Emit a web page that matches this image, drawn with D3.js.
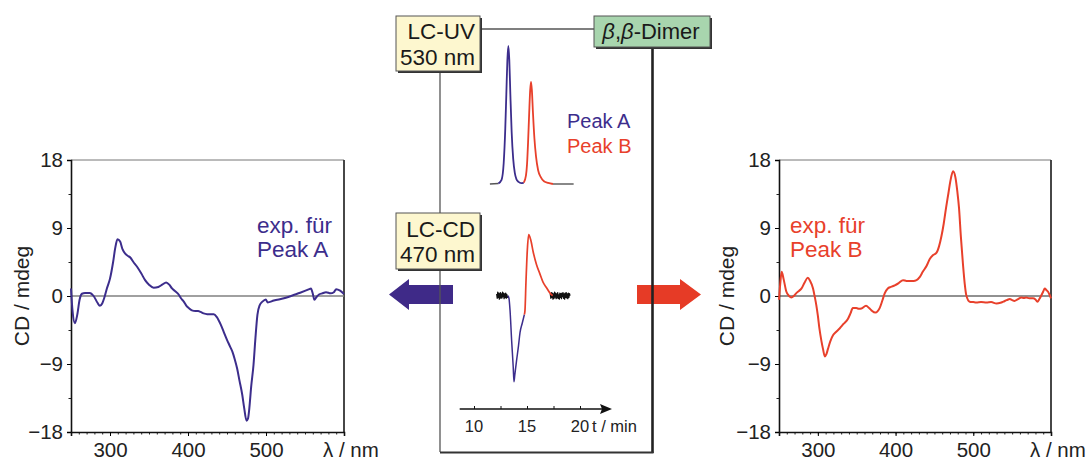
<!DOCTYPE html>
<html><head><meta charset="utf-8">
<script src="https://cdn.jsdelivr.net/npm/d3@7"></script>
<style>
html,body{margin:0;padding:0;background:#fff;}
svg{display:block;font-family:"Liberation Sans",Arial,sans-serif;}
</style></head>
<body><svg id="c" width="1087" height="460"></svg>
<script>
// ---------- DATA ----------
const yTicks = [-18, -9, 0, 9, 18];
const xTicks = [300, 400, 500];
const timeTicks = [10, 12.5, 15, 17.5, 20];
const timeLabels = [10, 15, 20];

// CD spectrum Peak A: [wavelength nm, CD mdeg]
const specA = [[250,1.0],[252,-2.0],[255,-3.6],[258,-2.5],[261,-0.5],[264,0.3],[268,0.4],[274,0.4],[279,0.0],[284,-0.9],[287,-1.3],[290,-1.0],[292.5,-0.3],[296,1.0],[300,2.3],[304,4.5],[306.6,6.3],[309.6,7.5],[313,7.2],[316,6.2],[319.5,5.6],[323,5.3],[326,5.1],[330,4.5],[334.5,3.9],[340,3.0],[345,2.1],[350,1.5],[356,1.1],[362,1.2],[367,1.5],[372,1.8],[376,1.5],[379.5,1.0],[384,0.6],[388,0.2],[391,-0.3],[394.6,-0.75],[398,-1.3],[401,-1.6],[405,-1.9],[409.6,-2.0],[413,-2.0],[416,-2.1],[420,-2.3],[424.6,-2.4],[429,-2.4],[433,-2.4],[437,-2.8],[442,-3.8],[446,-4.8],[450,-5.8],[454,-6.7],[457,-7.4],[460,-8.4],[463,-9.6],[466,-11.2],[469.6,-13.1],[472,-14.8],[475,-16.5],[477,-16.2],[478.5,-15.0],[481,-12.0],[484,-9.1],[486.5,-5.5],[489,-2.5],[492,-1.2],[495.4,-0.75],[499.7,-0.45],[502,-0.85],[510,-0.6],[523,-0.3],[540,0.3],[555.5,0.9],[557.6,1.0],[560,0.3],[562,-0.5],[565,-0.1],[568,0.2],[572,0.35],[577,0.5],[583,0.35],[587,0.5],[590,0.9],[595,0.7],[600,0.25]];

// CD spectrum Peak B: [wavelength nm, CD mdeg]
const specB = [[250,-0.5],[251.5,1.5],[253.4,3.2],[256,2.2],[259.4,0.6],[263,0.0],[266,-0.2],[269,0.0],[272,0.35],[276,0.7],[279,1.0],[283,1.8],[287,2.4],[290,2.0],[293.8,1.0],[296,-0.1],[298,-1.2],[300,-2.6],[302,-4.3],[304.5,-5.9],[306.6,-7.0],[309,-8.0],[311,-7.7],[313,-7.0],[316,-6.0],[319.5,-5.2],[323,-4.8],[328,-4.3],[333,-3.7],[338.8,-3.0],[342,-2.3],[345,-1.6],[349.5,-1.6],[353,-1.7],[356,-1.65],[362,-1.3],[366,-1.6],[369,-1.9],[374,-2.2],[377,-2.0],[379.5,-1.6],[383,-0.6],[386,0.35],[390,1.0],[394,1.2],[399,1.4],[404,1.7],[409.6,2.1],[414,2.0],[418,2.0],[423,2.0],[427,2.1],[431,2.5],[435,3.2],[440,4.0],[444,4.9],[448,5.4],[452.5,5.7],[456,6.6],[459,7.9],[462,9.6],[465,11.7],[468,13.6],[470.5,15.2],[474,16.5],[477,15.7],[479.5,13.8],[481.6,11.7],[484,7.9],[486.8,4.1],[489,1.6],[491,0.1],[495.4,-0.75],[500,-0.8],[504,-0.85],[510,-0.8],[517,-0.85],[523,-0.8],[530,-1.0],[535,-0.9],[538.6,-0.75],[543,-0.55],[547,-0.4],[550,-0.55],[553,-0.65],[557,-0.45],[562,-0.2],[565,-0.25],[568,-0.2],[572,-0.3],[576.9,-0.3],[580,-0.45],[582.5,-0.75],[585,-0.4],[587.6,0.1],[590,0.6],[592,1.0],[594,0.8],[596,0.6],[598,0.2],[600,-0.3]];

// LC-UV chromatogram (530 nm): [t min, relative absorbance]
const uvBaseL = [[11.5,0],[12.3,0.004]];
const uvA = [[12.3,0.004],[12.6,0.03],[12.8,0.15],[12.95,0.4],[13.05,0.65],[13.15,0.9],[13.24,1.0],[13.33,0.9],[13.43,0.65],[13.55,0.38],[13.7,0.18],[13.85,0.08],[14.0,0.035],[14.2,0.015],[14.45,0.006],[14.7,0.01]];
const uvB = [[14.7,0.01],[14.9,0.06],[15.0,0.14],[15.1,0.3],[15.2,0.5],[15.3,0.68],[15.38,0.74],[15.46,0.68],[15.56,0.52],[15.7,0.33],[15.85,0.2],[16.05,0.1],[16.3,0.05],[16.6,0.02],[17.0,0.008],[17.45,0]];
const uvBaseR = [[17.45,0],[19.4,0]];

// LC-CD chromatogram (470 nm): [t min, relative CD]
const cdNoiseL = [[12.14,0.02],[12.19,-0.03],[12.24,0.04],[12.29,-0.02],[12.34,0.03],[12.39,-0.04],[12.44,0.01],[12.49,0.035],[12.54,-0.03],[12.59,0.02],[12.64,-0.025],[12.69,0.04],[12.74,-0.01],[12.79,0.03],[12.84,-0.035],[12.89,0.02],[12.94,-0.02],[12.99,0.03],[13.04,-0.03],[13.09,0.015],[13.14,-0.02],[13.2,0]];
const cdA = [[13.2,0],[13.3,-0.03],[13.4,-0.17],[13.55,-0.52],[13.7,-0.83],[13.77,-1.0],[13.85,-0.92],[14.02,-0.75],[14.2,-0.58],[14.34,-0.43],[14.55,-0.32],[14.75,-0.22]];
const cdB = [[14.75,-0.22],[14.81,-0.17],[14.9,0.15],[15.03,0.53],[15.16,0.71],[15.35,0.65],[15.6,0.5],[15.9,0.36],[16.2,0.26],[16.5,0.16],[16.86,0.09],[17.17,0.03],[17.42,0.0]];
const cdNoiseR = [[17.2,0.02],[17.25,-0.03],[17.3,0.035],[17.35,-0.02],[17.4,0.03],[17.45,-0.04],[17.5,0.02],[17.55,-0.03],[17.6,0.04],[17.65,-0.015],[17.7,0.03],[17.75,-0.035],[17.8,0.02],[17.85,-0.025],[17.9,0.035],[17.95,-0.03],[18.0,0.01],[18.05,-0.04],[18.1,0.03],[18.15,-0.02],[18.2,0.025],[18.25,-0.035],[18.3,0.03],[18.35,-0.01],[18.4,0.035],[18.45,-0.03],[18.5,0.02],[18.55,-0.04],[18.6,0.03],[18.65,-0.02],[18.7,0.035],[18.75,-0.025],[18.8,0.02],[18.85,-0.035],[18.9,0.03],[18.95,-0.02],[19.0,0.025],[19.06,0]];

// ---------- STYLE ----------
const PURPLE = "#3c2d8c", RED = "#e8402b", FONT = "Liberation Sans, Arial, sans-serif";
const svg = d3.select("#c");
svg.append("rect").attr("width",1087).attr("height",460).attr("fill","#fff");

const fmt = d => d < 0 ? "\u2212" + Math.abs(d) : String(d);

function spectrumPanel(x0, x1, data, color, label1, label2, labelX, zeroColor, zeroW, ylabelX) {
  const x = d3.scaleLinear().domain([250, 600]).range([x0, x1]);
  const y = d3.scaleLinear().domain([-18, 18]).range([432, 160]);
  const g = svg.append("g");
  g.append("line").attr("x1", x0).attr("x2", x1).attr("y1", 160).attr("y2", 160).attr("stroke", "#777").attr("stroke-width", 1);
  g.append("line").attr("x1", x1).attr("x2", x1).attr("y1", 160).attr("y2", 432).attr("stroke", "#333").attr("stroke-width", 1.8);
  g.append("line").attr("x1", x0).attr("x2", x1).attr("y1", y(0)).attr("y2", y(0)).attr("stroke", zeroColor).attr("stroke-width", zeroW);
  g.append("g").attr("transform", `translate(${x0},0)`)
    .call(d3.axisLeft(y).tickValues(d3.range(-18, 18.01, 4.5)).tickSize(2.5).tickFormat(""))
    .call(s => s.select(".domain").remove())
    .selectAll("line").attr("stroke", "#222");
  const ay = g.append("g").attr("transform", `translate(${x0},0)`)
    .call(d3.axisLeft(y).tickValues(yTicks).tickSize(4).tickPadding(4).tickFormat(fmt));
  ay.select(".domain").attr("stroke", "#111").attr("stroke-width", 1.6);
  ay.selectAll("text").attr("font-size", 20.5).attr("font-family", FONT).attr("fill", "#222");
  g.append("g").attr("transform", `translate(0,432)`)
    .call(d3.axisBottom(x).tickValues(d3.range(250, 600.1, 10)).tickSize(2.5).tickFormat(""))
    .call(s => s.select(".domain").remove())
    .selectAll("line").attr("stroke", "#222");
  const ax = g.append("g").attr("transform", `translate(0,432)`)
    .call(d3.axisBottom(x).tickValues(xTicks).tickSize(4).tickPadding(6));
  ax.select(".domain").attr("stroke", "#111").attr("stroke-width", 1.6);
  ax.selectAll("text").attr("font-size", 20.5).attr("font-family", FONT).attr("fill", "#222");
  g.append("text").attr("x", x1 - 21).attr("y", 457).attr("font-size", 20.5).attr("font-family", FONT).attr("fill", "#222").text("\u03bb / nm");
  g.append("text").attr("transform", `translate(${ylabelX},296) rotate(-90)`).attr("text-anchor", "middle")
    .attr("dy", "0.35em").attr("font-size", 21).attr("font-family", FONT).attr("fill", "#222").text("CD / mdeg");
  g.append("path").datum(data)
    .attr("d", d3.line().x(d => x(d[0])).y(d => y(d[1])).curve(d3.curveMonotoneX))
    .attr("fill", "none").attr("stroke", color).attr("stroke-width", 2).attr("stroke-linejoin", "round");
  g.append("text").attr("x", labelX).attr("y", 233).attr("font-size", 22.5).attr("font-family", FONT).attr("fill", color).text(label1);
  g.append("text").attr("x", labelX).attr("y", 257).attr("font-size", 22.5).attr("font-family", FONT).attr("fill", color).text(label2);
}

spectrumPanel(71, 344, specA, PURPLE, "exp. f\u00fcr", "Peak A", 257, "#808080", 1.5, 22);
spectrumPanel(779, 1051, specB, RED, "exp. f\u00fcr", "Peak B", 790, "#222", 1, 727);

// ---------- CENTRAL PANEL ----------
const c = svg.append("g");
c.append("path").attr("d", "M389,294.5 L409,279 L409,285 L453,285 L453,304 L409,304 L409,310 Z").attr("fill", "#3f2a88");
c.append("path").attr("d", "M701,294.5 L680,279 L680,285 L637,285 L637,304 L680,304 L680,310 Z").attr("fill", "#e63b26");
c.append("line").attr("x1", 440).attr("x2", 440).attr("y1", 72).attr("y2", 452).attr("stroke", "#555").attr("stroke-width", 1.3);
c.append("line").attr("x1", 481).attr("x2", 594).attr("y1", 29).attr("y2", 29).attr("stroke", "#555").attr("stroke-width", 1.3);
c.append("line").attr("x1", 652.5).attr("x2", 652.5).attr("y1", 48).attr("y2", 453).attr("stroke", "#222").attr("stroke-width", 2.6);
c.append("line").attr("x1", 440).attr("x2", 653.5).attr("y1", 452.5).attr("y2", 452.5).attr("stroke", "#333").attr("stroke-width", 2.2);

function box(x, y, w, h, fill) {
  c.append("rect").attr("x", x + 2).attr("y", y + 2).attr("width", w).attr("height", h).attr("fill", "#333");
  c.append("rect").attr("x", x).attr("y", y).attr("width", w).attr("height", h).attr("fill", fill).attr("stroke", "#555").attr("stroke-width", 1);
}
box(396, 16, 84, 55, "#fdf7cf");
box(396, 213, 84, 56, "#fdf7cf");
box(594, 16, 116, 31, "#a8d5ae");
function btext(x, y, t, anchor) {
  return c.append("text").attr("x", x).attr("y", y).attr("text-anchor", anchor || "end").attr("font-size", 22.5).attr("font-family", FONT).attr("fill", "#1a1a1a").text(t);
}
btext(475, 38.5, "LC-UV");
btext(475, 65, "530 nm");
btext(475, 237, "LC-CD");
btext(475, 262, "470 nm");
const dt = c.append("text").attr("x", 651).attr("y", 39).attr("text-anchor", "middle").attr("font-size", 22).attr("font-family", FONT).attr("fill", "#1a1a1a");
dt.append("tspan").attr("font-style", "italic").text("\u03b2");
dt.append("tspan").text(",");
dt.append("tspan").attr("font-style", "italic").text("\u03b2");
dt.append("tspan").text("-Dimer");

const t = d3.scaleLinear().domain([10, 20]).range([474, 580]);
const yUV = d3.scaleLinear().domain([0, 1]).range([184, 46]);
const yCD = d3.scaleLinear().domain([-1, 1]).range([381.7, 209.7]);
const lineUV = d3.line().x(d => t(d[0])).y(d => yUV(d[1])).curve(d3.curveMonotoneX);
const lineCD = d3.line().x(d => t(d[0])).y(d => yCD(d[1])).curve(d3.curveLinear);
const lineCDs = d3.line().x(d => t(d[0])).y(d => yCD(d[1])).curve(d3.curveMonotoneX);
function pth(data, gen, color, w) {
  c.append("path").datum(data).attr("d", gen).attr("fill", "none").attr("stroke", color).attr("stroke-width", w).attr("stroke-linejoin", "round");
}
pth(uvBaseL, lineUV, "#555", 1.4);
pth(uvBaseR, lineUV, "#555", 1.4);
pth(uvA, lineUV, PURPLE, 1.8);
pth(uvB, lineUV, RED, 1.8);
pth(cdNoiseL, lineCD, "#111", 1.3);
pth(cdNoiseR, lineCD, "#111", 1.3);
pth(cdA, lineCDs, PURPLE, 1.5);
pth(cdB, lineCDs, RED, 1.7);

c.append("text").attr("x", 567).attr("y", 128).attr("font-size", 20).attr("font-family", FONT).attr("fill", PURPLE).text("Peak A");
c.append("text").attr("x", 567).attr("y", 153).attr("font-size", 20).attr("font-family", FONT).attr("fill", RED).text("Peak B");

const ta = c.append("g").attr("transform", "translate(0,409)");
ta.call(d3.axisTop(t).tickValues(timeTicks).tickSize(3).tickFormat(""))
  .call(s => s.select(".domain").remove());
ta.selectAll("line").attr("stroke", "#111");
ta.append("line").attr("x1", t(8.65)).attr("x2", 603).attr("y1", 0).attr("y2", 0).attr("stroke", "#111").attr("stroke-width", 1.5);
ta.append("path").attr("d", "M612,0 L600,-5 L602,0 L600,5 Z").attr("fill", "#111");
ta.selectAll(".tl").data(timeLabels).enter().append("text").attr("class", "tl")
  .attr("x", d => t(d)).attr("y", 23).attr("text-anchor", "middle").attr("font-size", 16.5).attr("font-family", FONT).attr("fill", "#222").text(d => d);
ta.append("text").attr("x", 592).attr("y", 23).attr("text-anchor", "start").attr("font-size", 16.5).attr("font-family", FONT).attr("fill", "#222").text("t / min");
</script></body></html>
